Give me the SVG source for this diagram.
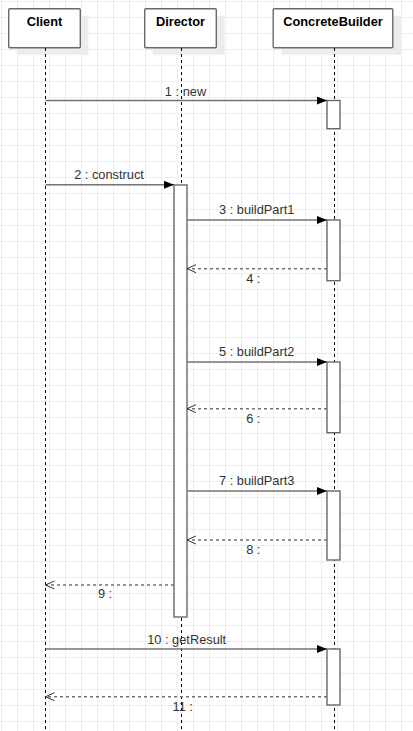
<svg xmlns="http://www.w3.org/2000/svg" width="413" height="731" viewBox="0 0 413 731">
<defs>
<pattern id="grid" x="1" y="1" width="16" height="16" patternUnits="userSpaceOnUse">
<path d="M0.5,0 V16 M0,0.5 H16" stroke="#ededed" stroke-width="1" fill="none"/>
</pattern>
<marker id="block" viewBox="0 0 10 8" refX="10" refY="4" markerWidth="10" markerHeight="8" orient="auto" markerUnits="userSpaceOnUse">
<path d="M0,0 L10,4 L0,8 z" fill="#000"/>
</marker>
<marker id="open" viewBox="-1 -1 11 10" refX="9" refY="4" markerWidth="11" markerHeight="10" orient="auto" markerUnits="userSpaceOnUse">
<path d="M0,0 L9,4 L0,8" fill="none" stroke="#333" stroke-width="1"/>
</marker>
</defs>
<style>
.box{fill:#fff;stroke:#6a6a6a;stroke-width:1.4}
.shadow{fill:#ececec}
.title{font-family:"Liberation Sans",Arial,sans-serif;font-size:12.8px;font-weight:bold;fill:#000;text-anchor:middle}
.life{stroke:#000;stroke-width:1;stroke-dasharray:3 3;fill:none}
.act{fill:#fff;stroke:#6a6a6a;stroke-width:1.4}
.msg{stroke:#737373;stroke-width:1.4;fill:none;marker-end:url(#block)}
.ret{stroke:#737373;stroke-width:1.4;fill:none;stroke-dasharray:3 3;marker-end:url(#open)}
.lbl{font-family:"Liberation Sans",Arial,sans-serif;font-size:12.8px;fill:#333;text-anchor:middle}
</style>
<rect width="413" height="731" fill="#fff"/>
<rect width="413" height="731" fill="url(#grid)"/>

<g id="client">
<rect class="shadow" x="16.7" y="15.7" width="71.6" height="39"/>
<rect class="box" x="8.7" y="8.7" width="71.6" height="39" rx="1"/>
<text class="title" x="44.5" y="26">Client</text>
<line class="life" x1="45.5" y1="48" x2="45.5" y2="731"/>
</g>
<g id="director">
<rect class="shadow" x="152.7" y="15.7" width="71.6" height="39"/>
<rect class="box" x="144.7" y="8.7" width="71.6" height="39" rx="1"/>
<text class="title" x="180.5" y="26">Director</text>
<line class="life" x1="181.5" y1="48" x2="181.5" y2="731"/>
<rect class="act" x="174" y="185" width="13" height="432"/>
</g>
<g id="concretebuilder">
<rect class="shadow" x="281.2" y="15.7" width="119.6" height="39"/>
<rect class="box" x="273.2" y="8.7" width="119.6" height="39" rx="1"/>
<text class="title" x="333" y="26">ConcreteBuilder</text>
<line class="life" x1="334.5" y1="48" x2="334.5" y2="731"/>
<rect class="act" x="327" y="100.5" width="13" height="28.2"/>
<rect class="act" x="327" y="220" width="13" height="60.7"/>
<rect class="act" x="327" y="362" width="13" height="70.7"/>
<rect class="act" x="327" y="491" width="13" height="69"/>
<rect class="act" x="327" y="649" width="13" height="56"/>
</g>

<g id="connectors">
<line class="msg" x1="45.5" y1="100.5" x2="327" y2="100.5"/>
<text class="lbl" x="185.5" y="95.5">1 : new</text>
<line class="msg" x1="45.5" y1="184.8" x2="174" y2="184.8"/>
<text class="lbl" x="109" y="179">2 : construct</text>
<line class="msg" x1="187" y1="220" x2="327" y2="220"/>
<text class="lbl" x="256.7" y="213.5">3 : buildPart1</text>
<line class="ret" x1="327" y1="268.7" x2="187" y2="268.7"/>
<text class="lbl" x="253.3" y="283">4 :</text>
<line class="msg" x1="187" y1="362" x2="327" y2="362"/>
<text class="lbl" x="256.7" y="355.7">5 : buildPart2</text>
<line class="ret" x1="327" y1="408.7" x2="187" y2="408.7"/>
<text class="lbl" x="253.3" y="423">6 :</text>
<line class="msg" x1="187" y1="491" x2="327" y2="491"/>
<text class="lbl" x="256.7" y="485">7 : buildPart3</text>
<line class="ret" x1="327" y1="540" x2="187" y2="540"/>
<text class="lbl" x="253.3" y="554">8 :</text>
<line class="ret" x1="174" y1="585" x2="45.5" y2="585"/>
<text class="lbl" x="105" y="598">9 :</text>
<line class="msg" x1="45.5" y1="649" x2="327" y2="649"/>
<text class="lbl" x="186.7" y="643.5">10 : getResult</text>
<line class="ret" x1="327" y1="696.7" x2="45.5" y2="696.7"/>
<text class="lbl" x="182.7" y="711">11 :</text>
</g>
</svg>
